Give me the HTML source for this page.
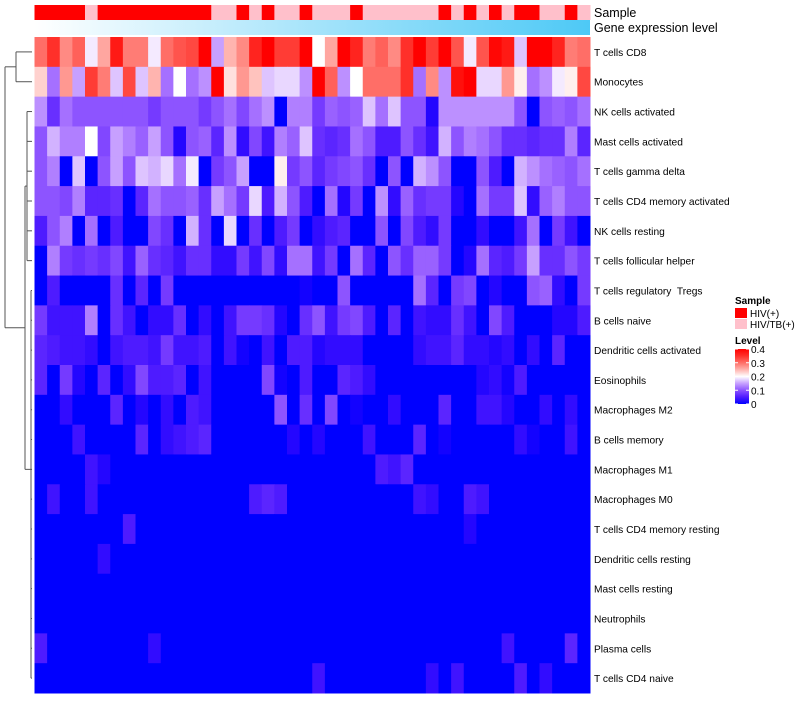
<!DOCTYPE html>
<html><head><meta charset="utf-8"><style>
body{margin:0;background:#fff;width:800px;height:700px;overflow:hidden;font-family:"Liberation Sans",sans-serif;}
text{white-space:pre;}
</style></head><body>
<svg id="chart" width="800" height="700" xmlns="http://www.w3.org/2000/svg"></svg>
<script>
const rowLabels=["T cells CD8","Monocytes","NK cells activated","Mast cells activated","T cells gamma delta","T cells CD4 memory activated","NK cells resting","T cells follicular helper","T cells regulatory  Tregs","B cells naive","Dendritic cells activated","Eosinophils","Macrophages M2","B cells memory","Macrophages M1","Macrophages M0","T cells CD4 memory resting","Dendritic cells resting","Mast cells resting","Neutrophils","Plasma cells","T cells CD4 naive"];
const sampleGroups=[1,1,1,1,0,1,1,1,1,1,1,1,1,1,0,0,1,0,1,0,0,1,0,0,0,1,0,0,0,0,0,0,1,0,1,0,1,0,1,1,0,0,1,0];
const legendTicks=[0,0.1,0.2,0.3,0.4];
const r1=[0.3,0.35,0.28,0.31,0.19,0.26,0.37,0.29,0.29,0.19,0.3,0.32,0.33,0.4,0.15,0.25,0.28,0.36,0.4,0.34,0.34,0.4,0.2,0.26,0.4,0.36,0.29,0.31,0.28,0.35,0.4,0.34,0.4,0.32,0.19,0.32,0.39,0.37,0.17,0.4,0.4,0.36,0.29,0.3];
const r2=[0.23,0.12,0.27,0.15,0.34,0.29,0.17,0.33,0.17,0.25,0.12,0.2,0.12,0.14,0.4,0.22,0.27,0.24,0.17,0.18,0.18,0.14,0.4,0.31,0.14,0.2,0.3,0.3,0.3,0.35,0.12,0.28,0.14,0.38,0.4,0.18,0.18,0.27,0.21,0.12,0.14,0.19,0.21,0.33];
const r3=[0.14,0.07,0.12,0.1,0.1,0.1,0.1,0.1,0.1,0.08,0.1,0.1,0.1,0.08,0.1,0.12,0.09,0.12,0.14,0,0.13,0.13,0.08,0.11,0.1,0.11,0.17,0.12,0.17,0.1,0.1,0.02,0.14,0.14,0.14,0.14,0.14,0.14,0.1,0,0.1,0.11,0.1,0.12];
const r4=[0.1,0.16,0.13,0.13,0.2,0.09,0.15,0.13,0.11,0.15,0.1,0.02,0.1,0.11,0.06,0.14,0.03,0.09,0.04,0.13,0.11,0.17,0.07,0.06,0.07,0.12,0.1,0.05,0.05,0.1,0.07,0.04,0.16,0.1,0.13,0.12,0.1,0.07,0.07,0.06,0.07,0.07,0.13,0.06];
const r5=[0.1,0.13,0,0.17,0,0.1,0.15,0.1,0.17,0.16,0.18,0.12,0.19,0,0.08,0.1,0.15,0,0,0.21,0.08,0.1,0.06,0.08,0.09,0.1,0.07,0,0.1,0,0.16,0.14,0.1,0,0,0.1,0.05,0,0.16,0.14,0.12,0.11,0.1,0.12];
const r6=[0.1,0.1,0.09,0.13,0.06,0.06,0.07,0,0.06,0.12,0.1,0.1,0.11,0.07,0.15,0.12,0.08,0.18,0.05,0.16,0.1,0.05,0,0.12,0.02,0.08,0,0.14,0.03,0.11,0.07,0.08,0.08,0.02,0,0.12,0.08,0.08,0.17,0.03,0.11,0.13,0.1,0.1];
const r7=[0.05,0.1,0.13,0,0.12,0,0.05,0,0,0.09,0.07,0,0.16,0.07,0,0.18,0,0.07,0,0.05,0.08,0,0.03,0.05,0.06,0,0,0.1,0,0.09,0.05,0.03,0.08,0,0,0.03,0,0,0.04,0.12,0,0.08,0.04,0];
const r8=[0,0.13,0.08,0.07,0.08,0.07,0.09,0.04,0.11,0.07,0.06,0.04,0.07,0.07,0.03,0.03,0.08,0.04,0.09,0.03,0.12,0.12,0.04,0.08,0,0.12,0.06,0,0.1,0.07,0.11,0.11,0.08,0,0.02,0.12,0.06,0.05,0.08,0.15,0.07,0.07,0.1,0.08];
const r9=[0,0.05,0,0,0,0,0.07,0,0.06,0,0.08,0,0,0,0,0,0,0,0,0,0,0.01,0,0,0.1,0,0,0,0,0,0.12,0.06,0,0.08,0.09,0,0.02,0,0,0.1,0.11,0.03,0,0.08];
const r10=[0.08,0.04,0.04,0.04,0.13,0,0.07,0.04,0,0.03,0.03,0.07,0,0.03,0,0.04,0.08,0.08,0.07,0.02,0,0.07,0.1,0.04,0.08,0.09,0.05,0,0.06,0,0.04,0.03,0.03,0.07,0.04,0,0.09,0.05,0,0,0,0.02,0.02,0.05];
const r11=[0.06,0.05,0.04,0.04,0.03,0,0.04,0.05,0.05,0.04,0.08,0.04,0.04,0.05,0,0.04,0.01,0,0.04,0,0.05,0.05,0.02,0.03,0.03,0.03,0,0,0,0,0.03,0.04,0.04,0.06,0.03,0.03,0.02,0.03,0,0.03,0,0.06,0,0];
const r12=[0.06,0,0.08,0.02,0,0.06,0,0.03,0.09,0.05,0.05,0.06,0,0.04,0,0,0,0,0.09,0.01,0,0.05,0,0,0.06,0.05,0.03,0,0,0,0,0,0,0,0,0.02,0.03,0.01,0.05,0,0,0,0,0];
const r13=[0,0,0.03,0,0,0,0.06,0,0.02,0,0.03,0,0.05,0.04,0,0,0,0,0,0.1,0,0.07,0,0.09,0,0.01,0,0,0.03,0,0,0,0.06,0,0,0.04,0.04,0.02,0,0,0.03,0,0.03,0];
const r14=[0,0,0,0.04,0,0,0,0,0.06,0,0.03,0.04,0.05,0.06,0,0,0,0,0,0,0.02,0,0.02,0,0,0,0.04,0,0,0,0.06,0,0.01,0,0,0,0,0,0.03,0.01,0,0,0.04,0];
const r15=[0,0,0,0,0.04,0.02,0,0,0,0,0,0,0,0,0,0,0,0,0,0,0,0,0,0,0,0,0,0.05,0.04,0.06,0,0,0,0,0,0,0,0,0,0,0,0,0,0];
const r16=[0,0.04,0,0,0.04,0,0,0,0,0,0,0,0,0,0,0,0,0.05,0.06,0.05,0,0,0,0,0,0,0,0,0,0,0.04,0.03,0,0,0.05,0.04,0,0,0,0,0,0,0,0];
const r17=[0,0,0,0,0,0,0,0.05,0,0,0,0,0,0,0,0,0,0,0,0,0,0,0,0,0,0,0,0,0,0,0,0,0,0,0.02,0,0,0,0,0,0,0,0,0];
const r18=[0,0,0,0,0,0.03,0,0,0,0,0,0,0,0,0,0,0,0,0,0,0,0,0,0,0,0,0,0,0,0,0,0,0,0,0,0,0,0,0,0,0,0,0,0];
const r19=[0,0,0,0,0,0,0,0,0,0,0,0,0,0,0,0,0,0,0,0,0,0,0,0,0,0,0,0,0,0,0,0,0,0,0,0,0,0,0,0,0,0,0,0];
const r20=[0,0,0,0,0,0,0,0,0,0,0,0,0,0,0,0,0,0,0,0,0,0,0,0,0,0,0,0,0,0,0,0,0,0,0,0,0,0,0,0,0,0,0,0];
const r21=[0.05,0,0,0,0,0,0,0,0,0.03,0,0,0,0,0,0,0,0,0,0,0,0,0,0,0,0,0,0,0,0,0,0,0,0,0,0,0,0.04,0,0,0,0,0.06,0];
const r22=[0,0,0,0,0,0,0,0,0,0,0,0,0,0,0,0,0,0,0,0,0,0,0.04,0,0,0,0,0,0,0,0,0.03,0,0.04,0,0,0,0,0.05,0,0.03,0,0,0];
const values=[r1,r2,r3,r4,r5,r6,r7,r8,r9,r10,r11,r12,r13,r14,r15,r16,r17,r18,r19,r20,r21,r22];

const NS="http://www.w3.org/2000/svg";
const svg=document.getElementById('chart');
const X0=34.5,X1=590,Y0=37,Y1=693;
const nC=sampleGroups.length,nR=rowLabels.length;
const cw=(X1-X0)/nC,rh=(Y1-Y0)/nR;
const xPos=i=>X0+i*cw, yPos=j=>Y0+j*rh;
function col(v){v=Math.max(0,Math.min(0.4,v));let r,g,b;
 if(v<=0.2){const t=v/0.2;r=255*Math.pow(t,0.85);g=255*Math.pow(t,1.6);b=255;}
 else{const t=(v-0.2)/0.2;r=255;g=255*Math.pow(1-t,1.2);b=255*Math.pow(1-t,1.3);}
 return `rgb(${r|0},${g|0},${b|0})`;}
function mk(tag,attrs,parent){const e=document.createElementNS(NS,tag);for(const k in attrs)e.setAttribute(k,attrs[k]);(parent||svg).appendChild(e);return e;}

const gS=mk('g',{});


sampleGroups.forEach((s,i)=>{const r=mk('rect',{x:xPos(i),y:5,width:cw+0.5,height:15,fill:s?'#ff0000':'#ffc0cb'},gS);

});
const defs=mk('defs',{});
const lg=mk('linearGradient',{id:'ge',x1:0,x2:1,y1:0,y2:0},defs);
mk('stop',{offset:0,'stop-color':'#ffffff'},lg);mk('stop',{offset:1,'stop-color':'#4dc9f6'},lg);
const ge=mk('rect',{x:X0,y:20,width:X1-X0,height:15,fill:'url(#ge)'});



const gH=mk('g',{});


values.forEach((row,j)=>row.forEach((v,i)=>{const r=mk('rect',{x:xPos(i),y:yPos(j),width:cw+0.5,height:rh+0.5,fill:col(v)},gH);

}));

rowLabels.forEach((l,j)=>{const t=mk('text',{x:594,y:yPos(j)+rh/2+4,'font-size':10.2,fill:'#000'});t.textContent=l;

});
const a1=mk('text',{x:594,y:17,'font-size':12.5});a1.textContent='Sample';


const a2=mk('text',{x:594,y:32,'font-size':12.5});a2.textContent='Gene expression level';



const gD=mk('g',{stroke:'#555','stroke-width':1,fill:'none'});


const cy=j=>yPos(j)+rh/2;
function seg(x1,y1,x2,y2){mk('line',{x1,y1,x2,y2},gD);}
seg(32,cy(0),16,cy(0));seg(32,cy(1),16,cy(1));seg(16,cy(0),16,cy(1));
const topMid=(cy(0)+cy(1))/2;
seg(16,topMid,5,topMid);
for(let j=2;j<nR;j++){seg(32,cy(j),j<8?27:31,cy(j));}
seg(27,cy(2),27,cy(7));seg(25,(cy(2)+cy(7))/2,27,(cy(2)+cy(7))/2);
seg(31,cy(8),31,cy(21));seg(25,cy(14),31,cy(14));
seg(25,(cy(2)+cy(7))/2,25,cy(14));
const restMid=((cy(2)+cy(7))/2+cy(14))/2;
seg(25,restMid,5,restMid);seg(5,topMid,5,restMid);

const gL=mk('g',{});


const lt=mk('text',{x:735,y:304,'font-size':10,'font-weight':'bold'},gL);lt.textContent='Sample';
[['HIV(+)','#ff0000'],['HIV/TB(+)','#ffc0cb']].forEach((d,k)=>{
 const r=mk('rect',{x:735,y:308+k*11,width:12,height:10,fill:d[1]},gL);
 
 
 const t=mk('text',{x:750,y:317+k*11,'font-size':10},gL);t.textContent=d[0];
 
 });
const lt2=mk('text',{x:735,y:344,'font-size':10,'font-weight':'bold'},gL);lt2.textContent='Level';
const lg2=mk('linearGradient',{id:'lv',x1:0,x2:0,y1:1,y2:0},defs);
[0,0.05,0.1,0.15,0.2,0.25,0.3,0.35,0.4].forEach(v=>mk('stop',{offset:v/0.4,'stop-color':col(v)},lg2));
const LB0=404,LB1=349;
const lb=mk('rect',{x:735,y:LB1,width:14,height:LB0-LB1,fill:'url(#lv)'},gL);


legendTicks.forEach(v=>{const y=LB0-(v/0.4)*(LB0-LB1);
 mk('line',{x1:735,x2:738,y1:y,y2:y,stroke:'#fff'},gL);mk('line',{x1:746,x2:749,y1:y,y2:y,stroke:'#fff'},gL);
 const t=mk('text',{x:751,y:y+4,'font-size':10},gL);t.textContent=v===0?'0':v.toFixed(1);
 
 });
</script>
</body></html>
